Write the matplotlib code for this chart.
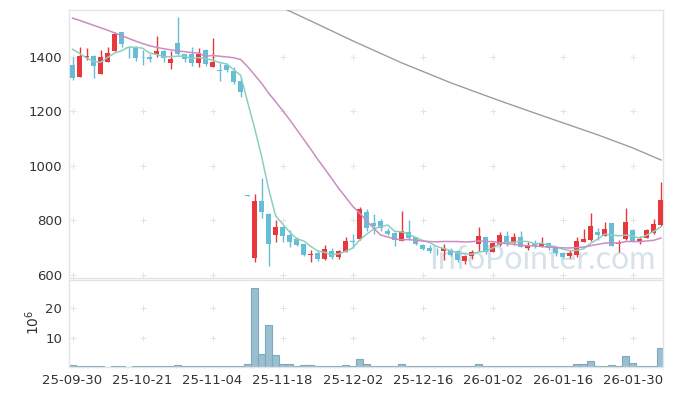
import numpy as np
import pandas as pd
import matplotlib.pyplot as plt

tick_labels = ["25-09-30", "25-10-21", "25-11-04", "25-11-18", "25-12-02",
               "25-12-16", "26-01-02", "26-01-16", "26-01-30"]

# OHLC (daily)
open_ = [1371, 1328, 1398, 1404, 1339, 1383, 1423, 1492, 1438, 1438,
         1400, 1400, 1410, 1422, 1379, 1450, 1410, 1412, 1379, 1426,
         1364, 1351, 1371, 1350, 1312, 893, 663, 871, 824, 747,
         777, 747, 731, 713, 674, 680, 659, 689, 667, 686,
         724, 731, 832, 790, 798, 763, 753, 725, 757, 738,
         710, 698, 693, 689, 692, 688, 652, 671, 714, 738,
         686, 710, 742, 716, 738, 698, 712, 706, 716, 704,
         682, 670, 673, 722, 728, 758, 744, 790, 713, 731,
         765, 722, 737, 753, 783]
high = [1401, 1438, 1432, 1406, 1426, 1436, 1493, 1493, 1440, 1440,
        1426, 1412, 1478, 1424, 1422, 1548, 1412, 1438, 1432, 1428,
        1469, 1379, 1379, 1364, 1322, 893, 897, 955, 826, 802,
        779, 765, 741, 715, 692, 688, 710, 700, 690, 741,
        750, 851, 842, 823, 805, 774, 758, 835, 802, 741,
        712, 710, 700, 713, 698, 690, 675, 692, 775, 740,
        722, 758, 760, 755, 760, 720, 727, 740, 718, 706,
        684, 690, 741, 768, 829, 773, 796, 792, 728, 845,
        768, 744, 770, 804, 942]
low = [1315, 1325, 1389, 1322, 1337, 1382, 1421, 1438, 1395, 1385,
       1371, 1382, 1398, 1383, 1355, 1408, 1380, 1367, 1364, 1367,
       1362, 1313, 1346, 1301, 1252, 891, 648, 808, 633, 721,
       721, 702, 705, 668, 647, 651, 654, 658, 660, 683,
       700, 729, 763, 749, 763, 745, 706, 723, 728, 710,
       690, 680, 673, 655, 668, 648, 641, 660, 688, 676,
       684, 706, 705, 710, 702, 692, 698, 703, 693, 668,
       662, 662, 665, 720, 725, 730, 742, 705, 683, 729,
       722, 713, 735, 750, 780]
close = [1324, 1404, 1404, 1368, 1400, 1414, 1484, 1447, 1434, 1397,
         1398, 1394, 1422, 1395, 1393, 1410, 1394, 1379, 1411, 1374,
         1383, 1349, 1352, 1309, 1270, 891, 870, 832, 713, 777,
         743, 722, 710, 673, 678, 659, 695, 667, 688, 725,
         721, 842, 774, 781, 771, 749, 728, 761, 737, 713,
         694, 689, 691, 698, 673, 655, 670, 683, 743, 683,
         719, 745, 712, 741, 704, 710, 708, 719, 700, 680,
         667, 680, 725, 732, 780, 745, 769, 706, 719, 793,
         725, 731, 765, 787, 875]
volume = [0.8, 0.45, 0.2, 0.2, 0.2, 0.05, 0.45, 0.2, 0.05, 0.2,
          0.2, 0.45, 0.2, 0.2, 0.2, 0.8, 0.2, 0.2, 0.2, 0.2,
          0.45, 0.2, 0.2, 0.45, 0.2, 1.1, 26.9, 4.4, 14.2, 4.1,
          1.1, 1.1, 0.45, 0.8, 0.8, 0.45, 0.45, 0.2, 0.2, 0.8,
          0.45, 2.8, 1.1, 0.45, 0.2, 0.2, 0.2, 1.1, 0.45, 0.2,
          0.2, 0.2, 0.2, 0.2, 0.2, 0.45, 0.2, 0.2, 1.1, 0.45,
          0.2, 0.2, 0.2, 0.2, 0.2, 0.2, 0.2, 0.2, 0.2, 0.45,
          0.2, 0.2, 1.1, 1.1, 1.9, 0.2, 0.2, 0.8, 0.45, 3.8,
          1.45, 0.2, 0.2, 0.45, 6.4]  # 10^6

# moving averages: first points need history that isn't on the chart -> read off
ma5_head = [1428, 1413, 1396, 1384]
ma20_head = [1542, 1534, 1525, 1516, 1507, 1498, 1488, 1478, 1468, 1458,
             1449, 1441, 1435, 1430, 1426, 1422, 1419, 1416, 1414]
ma_long_idx = [30, 34, 40, 47, 54, 61, 68, 75, 80, 84]
ma_long = [1580, 1532, 1459, 1378, 1305, 1239, 1176, 1114, 1066, 1022]

df = pd.DataFrame({"open": open_, "high": high, "low": low, "close": close, "vol": volume})
x = np.arange(len(df))
ma5 = df["close"].rolling(5).mean().to_numpy()
ma5[:4] = ma5_head
ma20 = df["close"].rolling(20).mean().to_numpy()
ma20[:19] = ma20_head

up_c = "#e8383d"
dn_c = "#67bdd6"
frame_c = "#e4e4e4"

fig = plt.figure(figsize=(6.73, 3.96), dpi=100)
W, H = 673, 396
ax = fig.add_axes([69 / W, 1 - 278 / H, (663 - 69) / W, (278 - 10) / H])
axv = fig.add_axes([69 / W, 1 - 367 / H, (663 - 69) / W, (367 - 280) / H])

# candles
up = df["close"] >= df["open"]
cols = np.where(up, up_c, dn_c)
bot = np.minimum(df["open"], df["close"])
hgt = np.maximum((df["close"] - df["open"]).abs(), 1.5)
ax.vlines(x, df["low"], df["high"], colors=cols, lw=1, zorder=2)
ax.bar(x, hgt, bottom=bot, width=0.72, color=cols, lw=0, zorder=3)

ax.plot(x, ma5, color="#8ccfc0", lw=1.1, zorder=4)
ax.plot(x, ma20, color="#cc8cc2", lw=1.1, zorder=4)
ax.plot(ma_long_idx, ma_long, color="#9d9d9d", lw=1.0, zorder=4)

ax.text(0.987, 0.01, "InfoPointer.com", transform=ax.transAxes, ha="right", va="bottom",
        fontsize=23, family="Lato", color="#c8d9e3", alpha=0.75, zorder=1)

# volume
axv.bar(x, df["vol"], width=1.0, color="#99bfd0", edgecolor="#7ea8bd", lw=0.8, zorder=2)

xt = list(range(0, 81, 10))
ax.set_xlim(-0.5, 84.3)
axv.set_xlim(-0.5, 84.3)
ax.set_ylim(589, 1572)
axv.set_ylim(0, 29.7)

ax.set_xticks(xt)
ax.set_xticklabels([])
ax.set_yticks([600, 800, 1000, 1200, 1400])
axv.set_xticks(xt)
axv.set_xticklabels(tick_labels)
axv.set_yticks([10, 20])

for a, yt in [(ax, [600, 800, 1000, 1200, 1400]), (axv, [10, 20])]:
    for xi in xt:
        a.plot([xi] * len(yt), yt, "+", color="#e3e3e3", ms=5, mew=0.7, zorder=0, clip_on=False)
    a.tick_params(length=0, labelsize=9.5, labelcolor="#333333", pad=5)
    for s in a.spines.values():
        s.set_color(frame_c)
        s.set_linewidth(1)

fig.text(33 / W, 1 - 322 / H, r"$10^{6}$", rotation=90, ha="center", va="center",
         fontsize=10, color="#333333")

fig.savefig("out.png", dpi=100)
